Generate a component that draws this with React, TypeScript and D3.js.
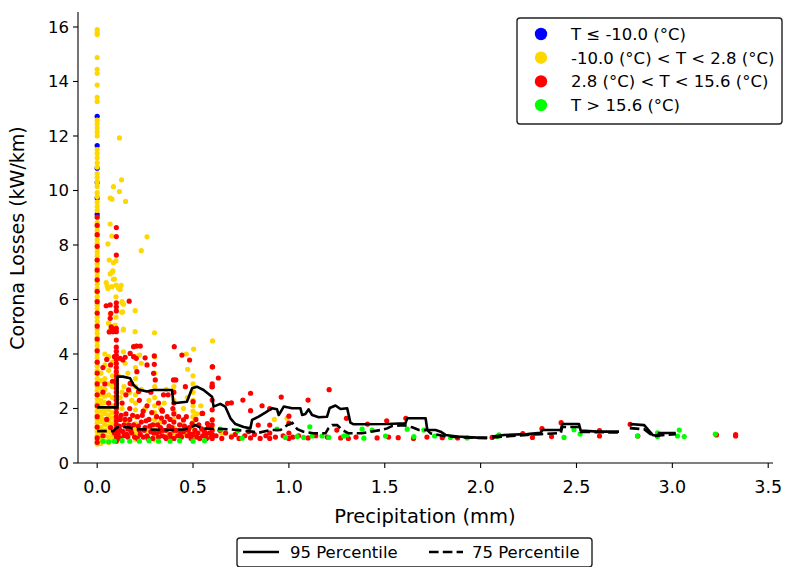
import React from "react";
import * as d3 from "d3";

const xTicks = [0, 0.5, 1, 1.5, 2, 2.5, 3, 3.5];
const yTicks = [0, 2, 4, 6, 8, 10, 12, 14, 16];

const legendLabels = [
  "T \u2264 -10.0 (\u00b0C)",
  "-10.0 (\u00b0C) < T < 2.8 (\u00b0C)",
  "2.8 (\u00b0C) < T < 15.6 (\u00b0C)",
  "T > 15.6 (\u00b0C)",
];
const legendColors = ["#0000ff", "#ffd700", "#ff0000", "#00ff00"];

// points on the zero-precipitation column
const blueAtZero = [12.72, 11.65, 10.82, 10.3, 9.72, 9.12];
const yellowAtZero = [15.9, 15.8, 15.72, 14.88, 14.45, 14.3, 13.87, 13.42, 13.27, 12.58, 12.45, 12.3, 12.15, 12.0, 11.5, 11.36, 11.2, 11.02, 10.86, 10.62, 10.48, 10.32, 10.15, 9.92, 9.78, 9.58, 9.42, 9.27, 8.82, 8.66, 8.52, 8.36, 8.2, 8.06, 7.9, 7.74, 7.6, 7.46, 7.3, 7.16, 7.0, 6.86, 6.7, 6.56, 6.4, 6.26, 6.1, 5.96, 5.8, 5.66, 5.5, 5.36, 5.2, 5.06, 4.9, 4.76, 4.6, 4.46, 4.3, 4.16, 4.0, 3.86, 3.7, 3.56, 3.4, 3.26, 3.1, 2.96, 2.8, 2.66, 2.5, 2.36, 2.2, 2.06, 1.9, 1.76, 1.6, 1.46, 1.3, 1.16, 1.0, 0.86, 0.7];
const redAtZero = [9.02, 8.72, 8.38, 7.95, 7.45, 7.08, 6.72, 6.3, 5.92, 5.5, 5.02, 4.55, 4.12, 3.7, 3.3, 2.9, 2.5, 2.1, 1.7, 1.32, 0.92, 0.76];
// red column at 0.1 mm
const redAtTenth = [0.8, 0.95, 1.1, 1.25, 1.4, 1.55, 1.7, 1.85, 2.0, 2.15, 2.3, 2.45, 2.6, 2.75, 2.9, 3.05, 3.2, 3.35, 3.5, 3.65, 3.8, 3.95, 4.1, 4.25, 4.51, 4.82, 4.94, 5.58, 5.73, 5.88, 7.63, 8.31, 8.64];

const yellowColumns: [number, number[]][] = [
  [0.02, [0.72, 0.9, 1.12, 1.3, 1.52, 1.7, 1.9, 2.12, 2.3, 2.52, 2.75, 3.02, 3.3]],
  [0.04, [0.8, 1.0, 1.2, 1.42, 1.6, 1.82, 2.0, 2.22, 2.45, 2.7, 3.1, 3.6, 4.0]],
  [0.06, [0.75, 0.95, 1.15, 1.35, 1.55, 1.75, 1.95, 2.2, 2.5, 2.9, 3.4, 3.9]],
  [0.08, [0.85, 1.05, 1.25, 1.45, 1.65, 1.85, 2.1, 2.4, 2.8, 3.2, 3.7]],
  [0.2, [0.85, 1.05, 1.25, 1.45, 1.7, 1.95, 2.2, 2.5, 2.8, 3.1, 3.5, 3.9, 4.3]],
  [0.3, [0.85, 1.0, 1.2, 1.4, 1.6, 1.85, 2.1, 2.4, 2.8, 3.3, 3.9]],
  [0.4, [0.9, 1.1, 1.3, 1.6, 1.9, 2.3, 2.8]],
  [0.5, [0.9, 1.1, 1.3, 1.5, 1.7, 1.9, 2.1, 2.3, 2.6, 2.9, 3.2]],
  [0.6, [1.0, 1.3, 1.6]],
];

const yellowScatter: [number, number][] = [
  [0.116, 11.93], [0.127, 10.39], [0.085, 10.14], [0.116, 9.96], [0.077, 9.68], [0.068, 9.72], [0.148, 9.6], [0.068, 8.77], [0.26, 8.3], [0.077, 8.33], [0.056, 8.04], [0.23, 7.79], [0.063, 7.45], [0.085, 7.35], [0.098, 7.42], [0.078, 7.0], [0.068, 6.94], [0.085, 6.74], [0.047, 6.62], [0.056, 6.4], [0.077, 6.47], [0.099, 6.53], [0.111, 6.41], [0.125, 6.52], [0.12, 6.37], [0.134, 5.85], [0.198, 5.59], [0.129, 5.53], [0.068, 5.46], [0.098, 5.35], [0.059, 5.13], [0.137, 4.88], [0.198, 4.82], [0.299, 4.78], [0.129, 5.92], [0.137, 5.83], [0.132, 5.55], [0.082, 5.0], [0.094, 5.06], [0.068, 4.88], [0.137, 4.91], [0.602, 4.48], [0.503, 4.18], [0.465, 4.0], [0.472, 3.44], [0.137, 4.08], [0.146, 3.66], [0.221, 3.96], [0.23, 3.66], [0.098, 6.1], [0.052, 6.5], [0.09, 6.75], [0.082, 7.05],
  [0.13, 2.0], [0.15, 1.5], [0.17, 2.6], [0.25, 2.0], [0.26, 1.2], [0.33, 1.5], [0.35, 2.2], [0.37, 1.0], [0.44, 1.4], [0.46, 1.05], [0.55, 1.2], [0.58, 0.95], [0.65, 1.1], [0.7, 1.0], [0.924, 1.6], [0.99, 1.64], [0.11, 3.2], [0.14, 2.8], [0.16, 3.3], [0.12, 2.4],
  [0.13, 2.6], [0.18, 2.3], [0.23, 2.7], [0.27, 2.3], [0.33, 2.0], [0.36, 2.7], [0.45, 2.0], [0.47, 2.4], [0.52, 1.8], [0.54, 2.1],
];

const redScatter: [number, number][] = [
  [0.167, 5.94], [0.047, 5.77], [0.073, 5.0], [0.063, 4.81], [0.077, 4.94], [0.082, 4.82], [0.068, 5.8], [0.071, 5.49], [0.068, 5.31], [0.402, 4.27], [0.442, 3.96], [0.482, 3.78], [0.602, 3.53], [0.19, 4.27], [0.207, 4.29], [0.225, 4.29], [0.172, 4.02], [0.19, 3.9], [0.204, 3.84], [0.12, 3.84], [0.134, 3.78], [0.146, 3.88], [0.25, 3.86], [0.26, 3.6], [0.298, 3.93], [0.298, 3.62], [0.398, 3.05], [0.346, 2.5], [0.599, 2.8], [0.207, 3.35], [0.294, 3.29], [0.303, 3.05], [0.172, 2.92], [0.164, 2.68], [0.216, 2.62], [0.632, 3.12], [0.338, 1.94], [0.547, 1.82], [0.03, 3.5], [0.05, 3.8], [0.07, 3.6], [0.09, 3.9], [0.03, 2.6], [0.06, 2.2], [0.08, 3.0], [0.05, 1.6], [0.07, 1.3], [0.03, 1.0], [0.09, 1.1], [0.04, 2.9],
  [0.12, 0.9], [0.12, 1.2], [0.12, 1.6], [0.13, 2.2], [0.14, 1.0], [0.14, 1.4], [0.15, 1.8], [0.15, 2.5], [0.16, 0.95], [0.16, 1.25], [0.17, 1.6], [0.17, 2.0], [0.18, 1.1], [0.18, 2.9], [0.19, 1.4], [0.21, 0.9], [0.21, 1.7], [0.22, 1.2], [0.22, 2.3], [0.23, 1.5], [0.24, 0.95], [0.24, 1.9], [0.25, 1.3], [0.26, 1.0], [0.26, 2.1], [0.27, 1.6], [0.28, 1.15], [0.28, 2.6], [0.29, 0.9], [0.29, 1.4], [0.31, 1.1], [0.31, 1.7], [0.32, 0.95], [0.32, 2.2], [0.33, 1.3], [0.34, 1.0], [0.34, 1.9], [0.35, 1.5], [0.36, 0.9], [0.36, 1.2], [0.37, 2.5], [0.38, 1.05], [0.38, 1.6], [0.39, 1.3], [0.4, 0.9], [0.4, 1.2], [0.4, 1.5], [0.4, 1.8], [0.4, 2.2], [0.4, 2.6], [0.41, 3.05], [0.42, 1.0], [0.43, 1.4], [0.44, 0.95], [0.45, 1.15], [0.45, 1.58], [0.46, 2.8], [0.47, 1.0], [0.48, 1.3], [0.49, 0.9], [0.5, 1.05], [0.5, 2.25], [0.51, 1.2], [0.52, 0.95], [0.53, 1.4], [0.55, 1.82], [0.55, 1.0], [0.56, 1.15], [0.57, 0.9], [0.58, 1.3],
  [0.11, 1.05], [0.115, 1.35], [0.125, 1.75], [0.135, 1.15], [0.145, 1.6], [0.155, 1.05], [0.165, 1.4], [0.175, 1.2], [0.185, 1.75], [0.195, 0.95], [0.215, 1.35], [0.225, 1.05], [0.235, 1.75], [0.245, 1.2], [0.255, 1.55], [0.265, 0.9], [0.275, 1.35], [0.285, 1.85], [0.295, 1.1], [0.315, 1.4], [0.325, 1.15], [0.335, 1.65], [0.345, 1.2], [0.355, 0.95], [0.365, 1.7], [0.375, 1.35], [0.385, 0.9], [0.395, 2.0], [0.415, 1.2], [0.425, 1.7], [0.435, 1.1], [0.455, 1.35], [0.465, 1.7], [0.475, 1.2], [0.485, 1.05], [0.495, 1.45], [0.515, 1.6], [0.525, 1.1], [0.535, 0.9], [0.545, 1.25], [0.565, 1.05], [0.575, 1.45], [0.585, 1.1], [0.595, 0.95],
  [0.6, 0.9], [0.6, 1.05], [0.6, 1.2], [0.6, 1.4], [0.6, 1.58], [0.6, 1.95], [0.6, 2.31], [0.6, 2.8], [0.6, 2.9], [0.6, 3.53], [0.62, 1.0], [0.64, 1.2], [0.65, 0.9], [0.67, 1.1], [0.68, 2.19], [0.7, 0.95], [0.7, 2.21], [0.72, 1.05], [0.74, 0.9], [0.76, 2.31], [0.77, 1.0], [0.79, 1.15], [0.8, 0.92], [0.8, 1.92], [0.8, 2.56], [0.82, 1.05], [0.84, 1.39], [0.85, 0.9], [0.86, 2.1], [0.88, 1.0], [0.9, 0.9], [0.9, 1.1], [0.9, 1.39], [0.9, 2.0], [0.93, 0.95], [0.96, 2.42], [0.97, 1.0], [1.0, 0.9], [1.0, 1.1], [1.0, 1.46], [1.0, 1.72], [1.02, 0.95], [1.05, 1.0], [1.1, 2.31], [1.1, 0.92], [1.14, 1.0], [1.2, 0.95], [1.21, 2.69], [1.25, 1.21], [1.27, 0.92], [1.3, 1.64], [1.31, 0.9], [1.35, 0.95], [1.41, 1.43], [1.46, 0.92], [1.51, 1.55], [1.52, 0.95], [1.57, 0.93], [1.61, 1.64], [1.65, 0.9], [1.72, 0.95], [1.8, 0.93], [1.88, 0.92], [2.06, 0.94], [2.22, 1.08], [2.27, 0.94], [2.32, 1.26], [2.37, 0.97], [2.42, 1.48], [2.62, 1.19], [2.62, 0.99], [2.78, 1.42], [2.82, 0.99], [3.23, 1.03], [3.33, 0.99], [3.33, 1.04],
];

const greenScatter: [number, number][] = [
  [0.03, 0.8], [0.06, 0.78], [0.09, 0.8], [0.13, 0.82], [0.17, 0.8], [0.22, 0.8], [0.27, 0.82], [0.32, 0.8], [0.38, 0.8], [0.43, 0.82], [0.5, 0.8], [0.56, 0.82], [0.642, 1.24], [0.733, 1.19], [0.756, 0.91], [0.938, 1.24], [0.982, 0.94], [1.043, 0.97], [1.077, 0.94], [1.109, 1.33], [1.121, 0.99], [1.173, 0.99], [1.208, 0.94], [1.286, 0.99], [1.304, 1.03], [1.382, 1.24], [1.391, 0.91], [1.434, 1.21], [1.504, 0.99], [1.617, 1.24], [1.652, 0.97], [1.704, 1.21], [1.76, 0.99], [1.843, 0.94], [1.93, 0.92], [2.087, 0.97], [2.096, 1.03], [2.435, 0.94], [2.487, 1.22], [2.519, 1.06], [2.818, 0.99], [2.923, 1.11], [2.923, 0.97], [3.027, 0.99], [3.036, 1.21], [3.062, 0.97], [3.224, 1.06],
];

// rolling percentiles (null = gap)
const p95: ([number, number] | null)[] = [
  [0.0, 2.04], [0.106, 2.04], [0.106, 3.17], [0.134, 3.17], [0.172, 3.11], [0.19, 2.86], [0.216, 2.7], [0.26, 2.62], [0.294, 2.68], [0.39, 2.68], [0.398, 2.19], [0.468, 2.25], [0.495, 2.74], [0.52, 2.8], [0.555, 2.68], [0.599, 2.43], [0.607, 2.07], [0.642, 2.17], [0.668, 2.07], [0.695, 1.64], [0.721, 1.43], [0.764, 1.32], [0.799, 1.27], [0.808, 1.58], [0.842, 1.7], [0.877, 1.85], [0.912, 2.01], [0.938, 1.97], [0.947, 1.76], [0.973, 2.07], [1.017, 2.01], [1.06, 2.01], [1.069, 1.76], [1.086, 1.8], [1.103, 1.97], [1.121, 1.76], [1.156, 1.68], [1.199, 1.7], [1.213, 2.02], [1.243, 2.11], [1.269, 1.98], [1.304, 2.01], [1.321, 1.48], [1.338, 1.42], [1.513, 1.43], [1.608, 1.46], [1.617, 1.64], [1.713, 1.64], [1.722, 1.21], [1.765, 1.21], [1.791, 1.15], [1.817, 1.03], [1.878, 0.97], [1.983, 0.93], [2.035, 0.93],
  null,
  [2.061, 0.97], [2.122, 1.03], [2.244, 1.06], [2.313, 1.11], [2.322, 1.21], [2.418, 1.21], [2.426, 1.43], [2.513, 1.43], [2.522, 1.19], [2.609, 1.15], [2.722, 1.15],
  null,
  [2.778, 1.43], [2.853, 1.39], [2.871, 1.24], [2.897, 1.03], [2.923, 0.99], [2.931, 1.1], [3.018, 1.1],
];

const p75: ([number, number] | null)[] = [
  [0.0, 1.17], [0.084, 1.17], [0.104, 1.31], [0.163, 1.31], [0.216, 1.24], [0.39, 1.21], [0.46, 1.24], [0.495, 1.33], [0.512, 1.39], [0.547, 1.27], [0.686, 1.24], [0.756, 1.19], [0.808, 1.15], [0.842, 1.11], [0.903, 1.21], [0.956, 1.21], [0.992, 1.39], [1.018, 1.47], [1.044, 1.24], [1.076, 1.15], [1.128, 1.09], [1.191, 1.09], [1.206, 1.27], [1.226, 1.39], [1.252, 1.39], [1.278, 1.21], [1.311, 1.09], [1.382, 1.09], [1.426, 1.15], [1.478, 1.21], [1.513, 1.27], [1.539, 1.36], [1.599, 1.39], [1.643, 1.31], [1.678, 1.21], [1.722, 1.21], [1.739, 1.09], [1.808, 0.99], [1.878, 0.95], [1.983, 0.92], [2.035, 0.91],
  null,
  [2.061, 0.94], [2.244, 1.03], [2.313, 1.06], [2.418, 1.1], [2.426, 1.32], [2.513, 1.32], [2.522, 1.14], [2.722, 1.12],
  null,
  [2.778, 1.28], [2.853, 1.24], [2.897, 0.99], [3.018, 1.06],
];

const FONT = "DejaVu Sans, sans-serif";

export default function App() {
  const W = 790, H = 567;
  const x = d3.scaleLinear().domain([-0.1, 3.525]).range([78, 773]);
  const y = d3.scaleLinear().domain([0, 16.55]).range([463, 12]);
  const r = 2.6;

  const blue = blueAtZero.map((v) => [0, v] as [number, number]);
  const yellow: [number, number][] = [
    ...yellowAtZero.map((v) => [0, v] as [number, number]),
    ...yellowColumns.flatMap(([cx, ys]) => ys.map((v) => [cx, v] as [number, number])),
    ...yellowScatter,
  ];
  const red: [number, number][] = [
    ...redAtZero.map((v) => [0, v] as [number, number]),
    ...redAtTenth.map((v) => [0.1, v] as [number, number]),
    ...redScatter,
  ];

  const line = d3
    .line<[number, number] | null>()
    .defined((d) => d !== null)
    .x((d) => x((d as [number, number])[0]))
    .y((d) => y((d as [number, number])[1]));

  const groups: [[number, number][], string][] = [
    [blue, legendColors[0]],
    [yellow, legendColors[1]],
    [red, legendColors[2]],
    [greenScatter, legendColors[3]],
  ];

  return (
    <svg width={W} height={H} style={{ position: "absolute", left: 0, top: 0, background: "#fff" }} fontFamily={FONT}>
      <rect width={W} height={H} fill="#fff" />
      {groups.map(([pts, c], gi) => (
        <g key={gi} fill={c}>
          {pts.map((p, i) => (
            <circle key={i} cx={x(p[0])} cy={y(p[1])} r={r} />
          ))}
        </g>
      ))}
      <path d={line(p95) || ""} fill="none" stroke="#000" strokeWidth={2.6} strokeLinejoin="round" />
      <path d={line(p75) || ""} fill="none" stroke="#000" strokeWidth={2.6} strokeDasharray="9.6,4.2" />

      {/* axes */}
      <line x1={78} x2={78} y1={12} y2={463} stroke="#000" strokeWidth={1.1} />
      <line x1={78} x2={773} y1={463} y2={463} stroke="#000" strokeWidth={1.1} />
      {yTicks.map((t) => (
        <g key={"y" + t}>
          <line x1={73} x2={78} y1={y(t)} y2={y(t)} stroke="#000" strokeWidth={1.1} />
          <text x={69} y={y(t)} dy="0.36em" textAnchor="end" fontSize={16.5}>
            {t}
          </text>
        </g>
      ))}
      {xTicks.map((t) => (
        <g key={"x" + t}>
          <line x1={x(t)} x2={x(t)} y1={463} y2={468} stroke="#000" strokeWidth={1.1} />
          <text x={x(t)} y={493} textAnchor="middle" fontSize={17.5}>
            {t.toFixed(1)}
          </text>
        </g>
      ))}
      <text x={425} y={523} textAnchor="middle" fontSize={19.5}>
        Precipitation (mm)
      </text>
      <text transform="translate(24,238) rotate(-90)" textAnchor="middle" fontSize={19}>
        Corona Losses (kW/km)
      </text>

      {/* temperature legend */}
      <rect x={517} y={18} width={265} height={106} rx={3} fill="#fff" stroke="#222" strokeWidth={1.4} />
      {legendLabels.map((lab, i) => (
        <g key={lab}>
          <circle cx={541} cy={34 + i * 23.7} r={6.2} fill={legendColors[i]} />
          <text x={571} y={34 + i * 23.7} dy="0.36em" fontSize={16.5}>
            {lab}
          </text>
        </g>
      ))}

      {/* percentile legend */}
      <rect x={237} y={538} width={355} height={29} rx={3} fill="#fff" stroke="#222" strokeWidth={1.4} />
      <line x1={243} x2={279} y1={552} y2={552} stroke="#000" strokeWidth={2.6} />
      <text x={290} y={552} dy="0.36em" fontSize={16.5}>
        95 Percentile
      </text>
      <line x1={429} x2={463} y1={552} y2={552} stroke="#000" strokeWidth={2.6} strokeDasharray="9.6,4.2" />
      <text x={472} y={552} dy="0.36em" fontSize={16.5}>
        75 Percentile
      </text>
    </svg>
  );
}
